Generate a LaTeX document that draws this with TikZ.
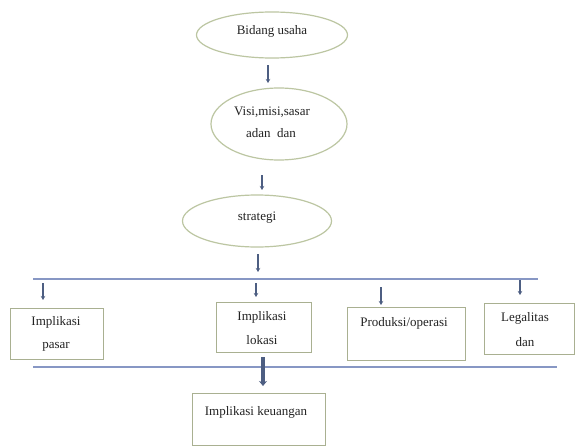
\documentclass[tikz,border=0pt]{standalone}
\usepackage{fontspec}
\setmainfont{Liberation Serif}
\usetikzlibrary{shapes.geometric,arrows.meta}
\definecolor{ellc}{HTML}{BCC6A2}
\definecolor{boxc}{HTML}{A9B091}
\definecolor{linec}{HTML}{8797C4}
\definecolor{arrc}{HTML}{4D5E82}
\definecolor{txtc}{HTML}{222222}
\tikzset{
  ov/.style={draw=ellc, line width=1.2pt, ellipse, inner sep=0pt},
  bx/.style={draw=boxc, line width=1pt},
  lbl/.style={font=\fontsize{13}{15}\selectfont, text=txtc, inner sep=0pt, anchor=center},
  hline/.style={draw=linec, line width=1.3pt},
  sarr/.style={draw=arrc, line width=2pt, -{Stealth[length=4pt,width=4.5pt]}},
  barr/.style={draw=arrc, line width=4pt, -{Stealth[length=5pt,width=8pt]}}
}
\begin{document}
\begin{tikzpicture}[x=1pt,y=-1pt]
\useasboundingbox[fill=white] (0,0) rectangle (575,447);
% ellipses
\node[ov, minimum width=151pt, minimum height=46pt] (e1) at (272,35) {};
\node[ov, minimum width=136pt, minimum height=72pt] (e2) at (279,124) {};
\node[ov, minimum width=149pt, minimum height=52pt] (e3) at (257,221) {};
\node[lbl] (t1) at (272,31) {Bidang usaha};
\node[lbl] (t2a) at (272,112) {Visi,misi,sasar};
\node[lbl] (t2b) at (271,133) {adan\ \ dan};
\node[lbl] (t3) at (257,218) {strategi};
% arrows between ellipses
\coordinate (a1s) at (268,65); \coordinate (a1e) at (268,83);
\coordinate (a2s) at (262,175); \coordinate (a2e) at (262,190);
\coordinate (a3s) at (258,254); \coordinate (a3e) at (258,272);
\draw[sarr] (a1s) -- (a1e);
\draw[sarr] (a2s) -- (a2e);
\draw[sarr] (a3s) -- (a3e);
% top line
\coordinate (l1a) at (33,279); \coordinate (l1b) at (538,279);
\draw[hline] (l1a) -- (l1b);
% boxes
\node[bx, minimum width=93pt, minimum height=51pt] (b1) at (56.5,333.5) {};
\node[bx, minimum width=95pt, minimum height=50pt] (b2) at (263.5,327) {};
\node[bx, minimum width=118pt, minimum height=53pt] (b3) at (406,333.5) {};
\node[bx, minimum width=90pt, minimum height=51pt] (b4) at (529,328.5) {};
\node[bx, minimum width=133pt, minimum height=52pt] (b5) at (258.5,419) {};
\node[lbl] (tb1a) at (56,322) {Implikasi};
\node[lbl] (tb1b) at (56,347) {pasar};
\node[lbl] (tb2a) at (262,317) {Implikasi};
\node[lbl] (tb2b) at (262,340) {lokasi};
\node[lbl] (tb3) at (404,323) {Produksi/operasi};
\node[lbl] (tb4a) at (525,318) {Legalitas};
\node[lbl] (tb4b) at (525,342) {dan};
\node[lbl] (tb5) at (256,412) {Implikasi keuangan};
% arrows from line to boxes
\coordinate (d1s) at (43,283); \coordinate (d1e) at (43,300);
\coordinate (d2s) at (256,283); \coordinate (d2e) at (256,297);
\coordinate (d3s) at (381,287); \coordinate (d3e) at (381,305);
\coordinate (d4s) at (520,280); \coordinate (d4e) at (520,295);
\draw[sarr] (d1s) -- (d1e);
\draw[sarr] (d2s) -- (d2e);
\draw[sarr] (d3s) -- (d3e);
\draw[sarr] (d4s) -- (d4e);
% bottom line
\coordinate (l2a) at (33,367); \coordinate (l2b) at (557,367);
\draw[hline] (l2a) -- (l2b);
% big arrow
\coordinate (bs) at (263,357); \coordinate (be) at (263,386);
\draw[barr] (bs) -- (be);
\end{tikzpicture}
\end{document}
